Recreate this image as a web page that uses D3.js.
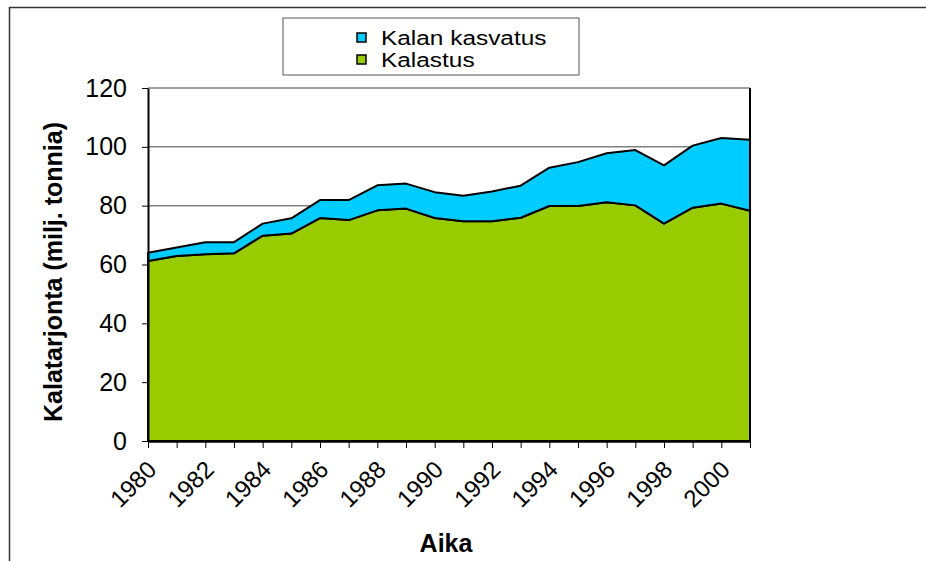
<!DOCTYPE html>
<html>
<head>
<meta charset="utf-8">
<script src="https://cdn.jsdelivr.net/npm/d3@7"></script>
<style>
  body { margin: 0; background: #fff; }
  text { font-family: "Liberation Sans", Arial, sans-serif; }
</style>
</head>
<body>
<div id="chart"></div>
<script>
// vuodet 1980-2001
var years = d3.range(1980, 2002);
var kalastus = [61.2, 62.9, 63.5, 63.8, 69.8, 70.5, 75.8, 75.1, 78.4, 79.0, 75.8,
                74.7, 74.7, 75.9, 79.9, 79.9, 81.2, 80.1, 73.9, 79.3, 80.7, 78.3];
var kasvatus = [2.8, 2.9, 4.1, 3.8, 4.1, 5.2, 6.1, 6.8, 8.5, 8.5, 8.8,
                8.7, 10.1, 10.9, 13.0, 14.9, 16.6, 18.8, 19.8, 21.1, 22.3, 24.1];
var yTicks = [0, 20, 40, 60, 80, 100, 120];
var xLabels = [1980, 1982, 1984, 1986, 1988, 1990, 1992, 1994, 1996, 1998, 2000];

var width = 926,
    height = 561,
    margin = {top: 88, right: 176, bottom: 120, left: 148},
    fontSize = 25;

var svg = d3.select("#chart")
    .append("svg")
    .attr("width", width)
    .attr("height", height);

// outer frame
svg.append("rect")
    .attr("x", 9.5).attr("y", 7.5)
    .attr("width", 1000).attr("height", 1000)
    .attr("fill", "none")
    .attr("stroke", "#333")
    .attr("stroke-width", 1.5);

var g = svg.append("g")
    .attr("transform", `translate(${margin.left},${margin.top})`);

var w = width - margin.left - margin.right,
    h = height - margin.top - margin.bottom;

var xScale = d3.scaleLinear().domain([1980, 2001]).range([0, w]);
var yScale = d3.scaleLinear().domain([0, 120]).range([h, 0]);

// gridlines
g.selectAll(".grid")
    .data(yTicks.slice(1))
    .enter().append("line")
    .attr("class", "grid")
    .attr("x1", 0).attr("x2", w)
    .attr("y1", d => yScale(d)).attr("y2", d => yScale(d))
    .attr("stroke", "#808080")
    .attr("stroke-width", 1.5);

var data = years.map((y, i) => ({year: y, kalastus: kalastus[i], kasvatus: kasvatus[i]}));
var stack = d3.stack().keys(["kalastus", "kasvatus"]);
var series = stack(data);
var colors = {kalastus: "#99CC00", kasvatus: "#00CCFF"};

var area = d3.area()
    .x(d => xScale(d.data.year))
    .y0(d => yScale(d[0]))
    .y1(d => yScale(d[1]));

g.selectAll(".area")
    .data(series)
    .enter().append("path")
    .attr("class", "area")
    .attr("d", area)
    .attr("fill", d => colors[d.key])
    .attr("stroke", "#000")
    .attr("stroke-width", 2)
    .attr("stroke-linejoin", "round");

// right border of plot
g.append("line")
    .attr("x1", w).attr("x2", w)
    .attr("y1", 0).attr("y2", h)
    .attr("stroke", "#000").attr("stroke-width", 2);

// Y axis
var yAxis = d3.axisLeft(yScale).tickValues(yTicks).tickSize(6).tickSizeOuter(0).tickPadding(15);
var yG = g.append("g").call(yAxis);
yG.select(".domain").attr("stroke", "#000").attr("stroke-width", 2);
yG.selectAll(".tick line").attr("stroke", "#000").attr("stroke-width", 1);
yG.selectAll(".tick text")
    .attr("font-size", fontSize)
    .attr("font-family", "Liberation Sans, Arial, sans-serif")
    .attr("fill", "#000");

// X axis
var xAxis = d3.axisBottom(xScale).tickValues(years).tickSize(7).tickSizeOuter(0).tickFormat("");
var xG = g.append("g").attr("transform", `translate(0,${h})`).call(xAxis);
xG.select(".domain").attr("stroke", "#000").attr("stroke-width", 2.5);
xG.selectAll(".tick line").attr("stroke", "#000").attr("stroke-width", 1);

g.selectAll(".xlab")
    .data(xLabels)
    .enter().append("text")
    .attr("class", "xlab")
    .attr("transform", d => `translate(${xScale(d) + 10},${h + 30}) rotate(-45)`)
    .attr("text-anchor", "end")
    .attr("font-size", 24)
    .text(d => d);

// axis titles
svg.append("text")
    .attr("transform", `translate(62,272) rotate(-90)`)
    .attr("text-anchor", "middle")
    .attr("font-size", fontSize)
    .attr("font-weight", "bold")
    .text("Kalatarjonta (milj. tonnia)");

svg.append("text")
    .attr("x", 446)
    .attr("y", 552)
    .attr("text-anchor", "middle")
    .attr("font-size", fontSize)
    .attr("font-weight", "bold")
    .text("Aika");

// legend
var legend = svg.append("g").attr("transform", "translate(283,18)");
legend.append("rect")
    .attr("width", 296).attr("height", 57)
    .attr("fill", "#fff")
    .attr("stroke", "#555").attr("stroke-width", 1);

var legendItems = [
    {label: "Kalan kasvatus", key: "kasvatus"},
    {label: "Kalastus", key: "kalastus"}
];
var li = legend.selectAll(".li")
    .data(legendItems)
    .enter().append("g")
    .attr("class", "li")
    .attr("transform", (d, i) => `translate(74,${15 + i * 22})`);
li.append("rect")
    .attr("width", 9).attr("height", 9)
    .attr("fill", d => colors[d.key])
    .attr("stroke", "#000").attr("stroke-width", 1.5);
li.append("text")
    .attr("x", 24).attr("y", 12)
    .attr("font-size", 20)
    .text(d => d.label)
    .each(function() {
        // legend text in the original is drawn wider than usual
        var len = this.getComputedTextLength();
        d3.select(this)
            .attr("textLength", len * 1.22)
            .attr("lengthAdjust", "spacingAndGlyphs");
    });
</script>
</body>
</html>
